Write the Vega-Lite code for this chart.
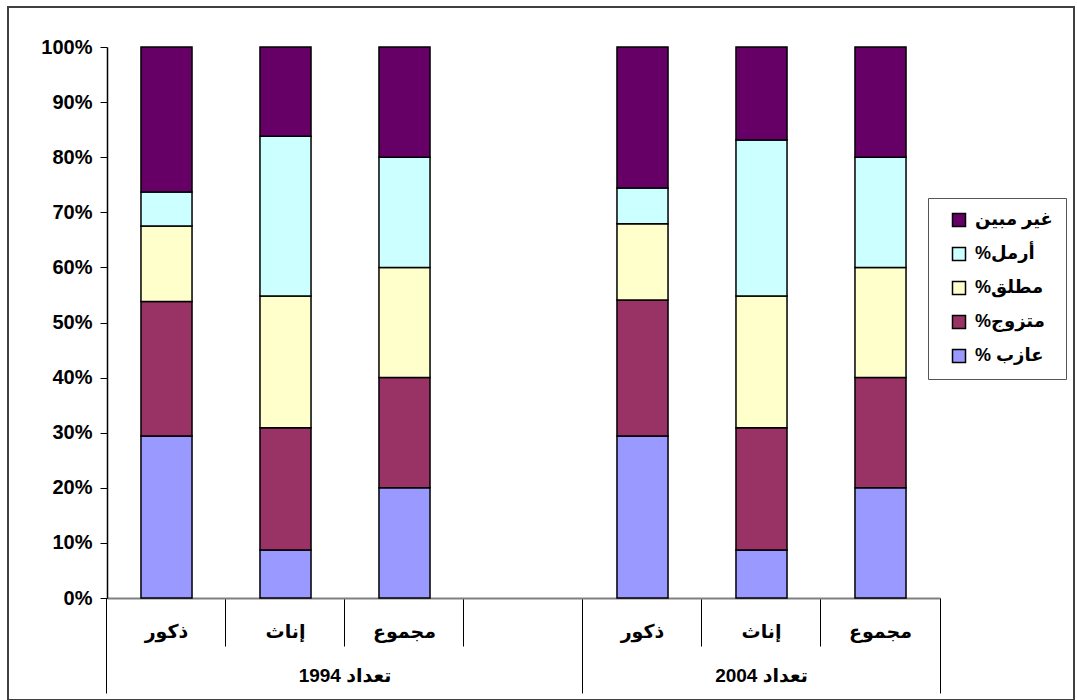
{
  "$schema": "https://vega.github.io/schema/vega-lite/v6.json",
  "width": 1066,
  "height": 693,
  "autosize": {"type": "none"},
  "padding": {"left": 8, "top": 7, "right": 3, "bottom": 0},
  "background": "white",
  "config": {
    "view": {"stroke": "#404040", "strokeWidth": 2},
    "font": "Arial, Liberation Sans, DejaVu Sans, sans-serif"
  },
  "data": {
    "values": [
      {"slot": "ذكور 1994", "status": "عازب %\u200f", "rank": 1, "value": 29.4},
      {"slot": "ذكور 1994", "status": "متزوج%\u200f", "rank": 2, "value": 24.4},
      {"slot": "ذكور 1994", "status": "مطلق%\u200f", "rank": 3, "value": 13.7},
      {"slot": "ذكور 1994", "status": "أرمل%\u200f", "rank": 4, "value": 6.2},
      {"slot": "ذكور 1994", "status": "غير مبين", "rank": 5, "value": 26.3},
      {"slot": "إناث 1994", "status": "عازب %\u200f", "rank": 1, "value": 8.7},
      {"slot": "إناث 1994", "status": "متزوج%\u200f", "rank": 2, "value": 22.2},
      {"slot": "إناث 1994", "status": "مطلق%\u200f", "rank": 3, "value": 23.9},
      {"slot": "إناث 1994", "status": "أرمل%\u200f", "rank": 4, "value": 29.0},
      {"slot": "إناث 1994", "status": "غير مبين", "rank": 5, "value": 16.2},
      {"slot": "مجموع 1994", "status": "عازب %\u200f", "rank": 1, "value": 20},
      {"slot": "مجموع 1994", "status": "متزوج%\u200f", "rank": 2, "value": 20},
      {"slot": "مجموع 1994", "status": "مطلق%\u200f", "rank": 3, "value": 20},
      {"slot": "مجموع 1994", "status": "أرمل%\u200f", "rank": 4, "value": 20},
      {"slot": "مجموع 1994", "status": "غير مبين", "rank": 5, "value": 20},
      {"slot": "ذكور 2004", "status": "عازب %\u200f", "rank": 1, "value": 29.4},
      {"slot": "ذكور 2004", "status": "متزوج%\u200f", "rank": 2, "value": 24.7},
      {"slot": "ذكور 2004", "status": "مطلق%\u200f", "rank": 3, "value": 13.8},
      {"slot": "ذكور 2004", "status": "أرمل%\u200f", "rank": 4, "value": 6.5},
      {"slot": "ذكور 2004", "status": "غير مبين", "rank": 5, "value": 25.6},
      {"slot": "إناث 2004", "status": "عازب %\u200f", "rank": 1, "value": 8.7},
      {"slot": "إناث 2004", "status": "متزوج%\u200f", "rank": 2, "value": 22.2},
      {"slot": "إناث 2004", "status": "مطلق%\u200f", "rank": 3, "value": 23.9},
      {"slot": "إناث 2004", "status": "أرمل%\u200f", "rank": 4, "value": 28.3},
      {"slot": "إناث 2004", "status": "غير مبين", "rank": 5, "value": 16.9},
      {"slot": "مجموع 2004", "status": "عازب %\u200f", "rank": 1, "value": 20},
      {"slot": "مجموع 2004", "status": "متزوج%\u200f", "rank": 2, "value": 20},
      {"slot": "مجموع 2004", "status": "مطلق%\u200f", "rank": 3, "value": 20},
      {"slot": "مجموع 2004", "status": "أرمل%\u200f", "rank": 4, "value": 20},
      {"slot": "مجموع 2004", "status": "غير مبين", "rank": 5, "value": 20}
    ]
  },
  "layer": [
    {
      "mark": {"type": "bar", "stroke": "black", "strokeWidth": 1.5},
      "encoding": {
        "x": {
          "field": "slot",
          "type": "nominal",
          "scale": {
            "type": "band",
            "domain": ["ذكور 1994", "إناث 1994", "مجموع 1994", "", "ذكور 2004", "إناث 2004", "مجموع 2004"],
            "range": [99, 932],
            "paddingInner": 0.571,
            "paddingOuter": 0.2855
          },
          "axis": {
            "orient": "bottom",
            "offset": -102,
            "title": null,
            "bandPosition": -0.666,
            "grid": false,
            "domainColor": "#808080",
            "domainWidth": 2,
            "tickColor": "black",
            "tickWidth": 1,
            "tickSize": {"condition": {"test": "datum.value === 'ذكور 1994' || datum.value === 'ذكور 2004'", "value": 95}, "value": 48},
            "labelPadding": {"condition": {"test": "datum.value === 'ذكور 1994' || datum.value === 'ذكور 2004'", "value": -62}, "value": -15},
            "labelBaseline": "middle",
            "labelAngle": 0,
            "labelExpr": "split(datum.label, ' ')[0]",
            "labelFontSize": 19,
            "labelFontWeight": "bold",
            "labelColor": "black"
          }
        },
        "y": {
          "field": "value",
          "type": "quantitative",
          "stack": "normalize",
          "scale": {"domain": [0, 1], "range": [591, 40], "nice": false},
          "axis": {
            "orient": "left",
            "offset": -99,
            "title": null,
            "grid": false,
            "values": [0, 0.1, 0.2, 0.3, 0.4, 0.5, 0.6, 0.7, 0.8, 0.9, 1],
            "format": ".0%",
            "domainColor": "black",
            "domainWidth": 1.5,
            "tickColor": "black",
            "tickWidth": 1,
            "tickSize": 7,
            "labelFontSize": 20,
            "labelFontWeight": "bold",
            "labelPadding": 8,
            "labelColor": "black"
          }
        },
        "order": {"field": "rank", "type": "quantitative", "sort": "ascending"},
        "color": {
          "field": "status",
          "type": "nominal",
          "scale": {
            "domain": ["غير مبين", "أرمل%\u200f", "مطلق%\u200f", "متزوج%\u200f", "عازب %\u200f"],
            "range": ["#660066", "#CCFFFF", "#FFFFCC", "#993366", "#9999FF"]
          },
          "legend": {
            "title": null,
            "orient": "none",
            "legendX": 920,
            "legendY": 191,
            "direction": "vertical",
            "padding": 13,
            "strokeColor": "#555555",
            "fillColor": "white",
            "symbolType": "square",
            "symbolSize": 169,
            "symbolStrokeColor": "black",
            "symbolStrokeWidth": 1.5,
            "symbolOffset": 9,
            "labelFontSize": 18,
            "labelFontWeight": "bold",
            "labelColor": "black",
            "labelOffset": 7,
            "rowPadding": 14,
            "labelLimit": 200
          }
        }
      }
    },
    {
      "mark": {"type": "point", "opacity": 0},
      "encoding": {
        "x": {
          "field": "slot",
          "type": "nominal",
          "axis": {
            "orient": "bottom",
            "offset": -102,
            "title": null,
            "bandPosition": 1.666,
            "grid": false,
            "domain": false,
            "tickSize": 95,
            "tickColor": "black",
            "tickWidth": 1,
            "tickOpacity": {"condition": {"test": "datum.value === 'مجموع 2004'", "value": 1}, "value": 0},
            "labelExpr": "datum.value === 'إناث 1994' ? 'تعداد 1994' : datum.value === 'إناث 2004' ? 'تعداد 2004' : ''",
            "labelOffset": {"condition": {"test": "datum.value === 'إناث 1994'", "value": 59.5}, "value": 0},
            "labelPadding": -17.5,
            "labelBaseline": "middle",
            "labelAngle": 0,
            "labelFontSize": 19,
            "labelFontWeight": "bold",
            "labelColor": "black"
          }
        }
      }
    }
  ],
  "resolve": {"axis": {"x": "independent"}}
}
